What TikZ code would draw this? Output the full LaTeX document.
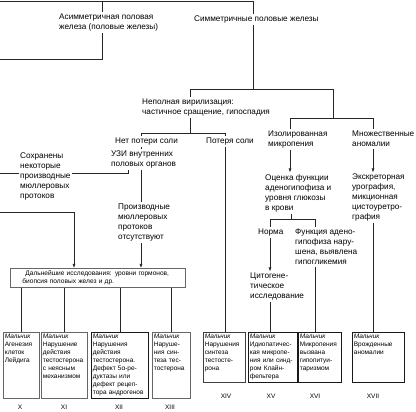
\documentclass[tikz,border=0pt]{standalone}
\usepackage{fontspec}
\setmainfont{Liberation Sans}
\usetikzlibrary{arrows.meta}
\newcommand\fm{\fontsize{8.2}{10}\selectfont}
\newcommand\fsm{\fontsize{6.5}{7.9}\selectfont}
\newcommand\fdal{\fontsize{6.6}{8}\selectfont}
\begin{document}
\begin{tikzpicture}[x=1pt,y=-1pt,
  ln/.style={line width=0.6pt, draw=black!85},
  arr/.style={ln, -{Latex[length=4pt,width=3pt]}},
  txt/.style={inner sep=1.5pt, anchor=north west, align=left, font=\fm},
  bx/.style={draw=black!60, line width=0.7pt, anchor=north west, inner xsep=1.5pt, inner ysep=1.5pt, align=left, font=\fsm, text height=5pt},
  bxd/.style={draw=black!90, line width=0.8pt},
  bxl/.style={bx, text depth=58pt},
  bxr/.style={bx, text depth=42pt},
  lbl/.style={font=\fsm, inner sep=0pt},
]
\useasboundingbox (0,0) rectangle (416,412);
% text nodes
\node[txt] (asym) at (57.5,12) {Асимметричная половая\\железа (половые железы)};
\node[txt] (sym) at (192.5,14.5) {Симметричные половые железы};
\node[txt] (nepoln) at (140.5,97.5) {Неполная вирилизация:\\частичное сращение, гипоспадия};
\node[txt] (netpot) at (113.5,136.5) {Нет потери соли};
\node[txt] (uzi) at (109.5,149.5) {УЗИ внутренних\\половых органов};
\node[txt] (poter) at (204.5,136.5) {Потеря соли};
\node[txt] (izol) at (266.5,129.5) {Изолированная\\микропения};
\node[txt] (mnozh) at (350.5,129.5) {Множественные\\аномалии};
\node[txt] (ocenka) at (263.5,172.5) {Оценка функции\\аденогипофиза и\\уровня глюкозы\\в крови};
\node[txt] (ekskr) at (350.5,172.5) {Экскреторная\\урография,\\микционная\\цистоуретро-\\графия};
\node[txt] (norma) at (256.5,227.5) {Норма};
\node[txt] (funk) at (293.5,227.5) {Функция адено-\\гипофиза нару-\\шена, выявлена\\гипогликемия};
\node[txt] (cito) at (248.5,271.5) {Цитогене-\\тическое\\исследование};
\node[txt] (sohr) at (18.5,151.5) {Сохранены\\некоторые\\производные\\мюллеровых\\протоков};
\node[txt] (proizv) at (116.5,202.5) {Производные\\мюллеровых\\протоков\\отсутствуют};
\node[draw=black!60, line width=0.8pt, anchor=north west, minimum height=19pt, text width=151pt, inner xsep=12pt, inner ysep=0pt, align=left, font=\fdal] (dalnei) at (10,268) {\hspace*{3pt}Дальнейшие исследования: уровни гормонов,\\биопсия половых желез и др.};
% bottom boxes
\node[bxl, text width=33pt] (b10) at (3,332) {\textit{Мальчик}\\Агенезия\\клеток\\Лейдига};
\node[bxl, text width=43pt] (b11) at (41,332) {\textit{Мальчик}\\Нарушение\\действия\\тестостерона\\с неясным\\механизмом};
\node[bxl, bxd, text width=54pt] (b12) at (91,332) {\textit{Мальчик}\\Нарушения\\действия\\тестостерона.\\Дефект 5α-ре-\\дуктазы или\\дефект рецеп-\\тора андрогенов};
\node[bxl, text width=35pt] (b13) at (152,332) {\textit{Мальчик}\\Наруше-\\ния син-\\теза тес-\\тостерона};
\node[bxr, draw=black!75, text width=39pt] (b14) at (203,332) {\textit{Мальчик}\\Нарушения\\синтеза\\тестосте-\\рона};
\node[bxr, bxd, text width=46pt] (b15) at (248,332) {\textit{Мальчик}\\Идиопатичес-\\кая микропе-\\ния или синд-\\ром Клайн-\\фельтера};
\node[bxr, bxd, text width=40pt] (b16) at (298,332) {\textit{Мальчик}\\Микропения\\вызвана\\гипопитуи-\\таризмом};
\node[bxr, bxd, text width=49pt] (b17) at (352,332) {\textit{Мальчик}\\Врожденные\\аномалии};
% labels
\node[lbl] (l10) at (20,407) {X};
\node[lbl] (l11) at (64,407) {XI};
\node[lbl] (l12) at (119,407) {XII};
\node[lbl] (l13) at (170,407) {XIII};
\node[lbl] (l14) at (226,396) {XIV};
\node[lbl] (l15) at (271,396) {XV};
\node[lbl] (l16) at (315,396) {XVI};
\node[lbl] (l17) at (373,396) {XVII};
% coordinates
\coordinate (t0) at (0,1);
\coordinate (tA) at (102,1);
\coordinate (tB) at (253,1);
\coordinate (aL) at (0,59);
\coordinate (h89L) at (190,89);
\coordinate (h89R) at (333,89);
\coordinate (h89M) at (253,89);
\coordinate (h133L) at (141,133);
\coordinate (h133R) at (225,133);
\coordinate (h133M) at (190,133);
\coordinate (h118L) at (290,118);
\coordinate (h118R) at (373,118);
\coordinate (h118M) at (333,118);
\coordinate (h219L) at (270,219);
\coordinate (h219R) at (315,219);
\coordinate (h219M) at (291,219);
\coordinate (c128) at (128,173);
\coordinate (sL) at (0,173);
\coordinate (L2) at (0,212);
\coordinate (c74) at (74,0);
% connectors
\draw[ln] (t0) -- (tB);
\draw[ln] (tA) -- (tA |- asym.north);
\draw[ln] (tA |- asym.south) |- (aL);
\draw[ln] (tB) -- (tB |- sym.north);
\draw[ln] (tB |- sym.south) -- (h89M);
\draw[ln] (h89L) -- (h89R);
\draw[ln] (h89L) -- (h89L |- nepoln.north);
\draw[ln] (h89L |- nepoln.south) -- (h133M);
\draw[ln] (h133L) -- (h133R);
\draw[ln] (h133L) -- (h133L |- netpot.north);
\draw[ln] (h133L |- netpot.south) -- (h133L |- uzi.north);
\draw[ln] (h133L |- uzi.south) -- (h133L |- proizv.north);
\draw[arr] (h133L |- proizv.south) -- (h133L |- dalnei.north);
\draw[ln] (c128 |- uzi.south) -- (c128) -- (c128 -| sohr.east);
\draw[ln] (sL -| sohr.west) -- (sL);
\draw[arr] (L2) -| (c74 |- dalnei.north);
\foreach \b in {b10,b11,b12,b13} \draw[ln] (\b.north |- dalnei.south) -- (\b.north);
\draw[ln] (h133R) -- (h133R |- poter.north);
\draw[ln] (h133R |- poter.south) -- (h133R |- b14.north);
\draw[ln] (h89R) -- (h118M);
\draw[ln] (h118L) -- (h118R);
\draw[ln] (h118L) -- (h118L |- izol.north);
\draw[arr] (h118L |- izol.south) -- (h118L |- ocenka.north);
\draw[ln] (h118R) -- (h118R |- mnozh.north);
\draw[arr] (h118R |- mnozh.south) -- (h118R |- ekskr.north);
\draw[ln] (h219M |- ocenka.south) -- (h219M);
\draw[ln] (h219L) -- (h219R);
\draw[ln] (h219L) -- (h219L |- norma.north);
\draw[arr] (h219L |- norma.south) -- (h219L |- cito.north);
\draw[ln] (h219R) -- (h219R |- funk.north);
\draw[ln] (h219R |- funk.south) -- (h219R |- b16.north);
\draw[ln] (h219L |- cito.south) -- (h219L |- b15.north);
\draw[ln] (h118R |- ekskr.south) -- (h118R |- b17.north);
\end{tikzpicture}
\end{document}
